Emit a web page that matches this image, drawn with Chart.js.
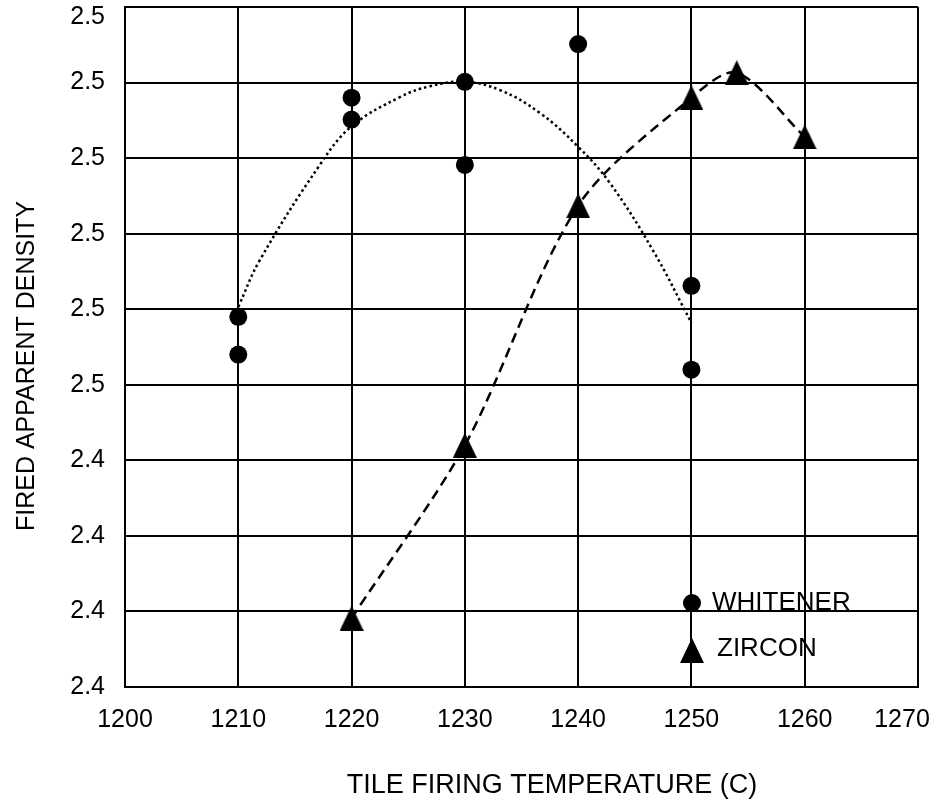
<!DOCTYPE html>
<html>
<head>
<meta charset="utf-8">
<script src="https://cdn.jsdelivr.net/npm/chart.js@4.4.1/dist/chart.umd.min.js"></script>
<style>
  html, body { margin: 0; padding: 0; background: #fff; }
  canvas { display: block; }
</style>
</head>
<body>
<canvas id="chart" width="940" height="811"></canvas>
<script>
// axis ticks
const xTicks = [1200, 1210, 1220, 1230, 1240, 1250, 1260, 1270];
const yTickValues = [2.41, 2.42, 2.43, 2.44, 2.45, 2.46, 2.47, 2.48, 2.49, 2.50];
const yTickLabels = ['2.4', '2.4', '2.4', '2.4', '2.5', '2.5', '2.5', '2.5', '2.5', '2.5'];

// WHITENER measurements
const whitenerTemps = [1210, 1210, 1220, 1220, 1230, 1230, 1240, 1250, 1250];
const whitenerDensity = [2.4590, 2.4540, 2.4880, 2.4851, 2.4901, 2.4791, 2.4951, 2.4631, 2.4520];

// WHITENER trend curve
const trendTemps = [1210, 1211.9, 1217.2, 1220, 1224.3, 1226.9, 1230, 1233.1, 1236.6, 1240, 1242.8, 1246.6, 1250];
const trendDensity = [2.4603, 2.4665, 2.4791, 2.4842, 2.4881, 2.4895, 2.4901, 2.4890, 2.4860, 2.4815, 2.4767, 2.4678, 2.4582];

// ZIRCON measurements
const zirconTemps = [1220, 1230, 1240, 1250, 1254, 1260];
const zirconDensity = [2.4191, 2.4420, 2.4737, 2.4880, 2.4913, 2.4828];

const FONT = '"Liberation Sans", Arial, sans-serif';

const toPoints = (xs, ys) => xs.map((x, i) => ({ x: x, y: ys[i] }));

// filled triangle marker, centred on its box like the spreadsheet one
function makeTriangle(w, h) {
  const c = document.createElement('canvas');
  c.width = w;
  c.height = h;
  const g = c.getContext('2d');
  g.fillStyle = '#000';
  g.beginPath();
  g.moveTo(w / 2, 0);
  g.lineTo(w, h);
  g.lineTo(0, h);
  g.closePath();
  g.fill();
  return c;
}
const triangle = makeTriangle(24, 25);

const extras = {
  id: 'extras',
  beforeDraw(chart) {
    // keep the edge labels inside the canvas
    const xi = chart.scales.x.getLabelItems();
    const lastX = xi[xi.length - 1];
    if (lastX && !lastX._moved) {
      lastX.options.translation[0] -= 16;
      lastX._moved = true;
    }
    const yi = chart.scales.y.getLabelItems();
    const lastY = yi[yi.length - 1];
    if (lastY && !lastY._moved) {
      lastY.options.translation[1] += 10;
      lastY._moved = true;
    }
  },
  afterDraw(chart) {
    const ctx = chart.ctx;
    const a = chart.chartArea;
    ctx.save();
    ctx.fillStyle = '#000';
    ctx.font = '26px ' + FONT;
    ctx.textBaseline = 'middle';

    // legend
    ctx.beginPath();
    ctx.arc(a.left + 567, a.top + 596, 9, 0, Math.PI * 2);
    ctx.fill();
    ctx.textAlign = 'left';
    ctx.fillText('WHITENER', a.left + 587, a.top + 596);
    ctx.drawImage(triangle, a.left + 555, a.top + 631);
    ctx.fillText('ZIRCON', a.left + 592, a.top + 642);

    // axis titles
    ctx.textAlign = 'center';
    ctx.font = '27px ' + FONT;
    ctx.fillText('TILE FIRING TEMPERATURE (C)', 552, 786);
    ctx.font = '25px ' + FONT;
    ctx.translate(27, 366);
    ctx.rotate(-Math.PI / 2);
    ctx.fillText('FIRED APPARENT DENSITY', 0, 0);
    ctx.restore();
  }
};

new Chart(document.getElementById('chart'), {
  type: 'scatter',
  data: {
    datasets: [
      {
        label: 'WHITENER',
        data: toPoints(whitenerTemps, whitenerDensity),
        showLine: false,
        pointStyle: 'circle',
        pointRadius: 9,
        pointHoverRadius: 9,
        backgroundColor: '#000',
        borderColor: '#000',
        borderWidth: 0,
        order: 0
      },
      {
        label: 'ZIRCON',
        data: toPoints(zirconTemps, zirconDensity),
        showLine: true,
        tension: 0.3,
        pointStyle: triangle,
        pointRadius: 12,
        backgroundColor: '#000',
        borderColor: '#000',
        borderWidth: 2.5,
        borderDash: [10, 6],
        order: 1
      },
      {
        label: 'trend',
        data: toPoints(trendTemps, trendDensity),
        showLine: true,
        tension: 0.4,
        pointRadius: 0,
        borderColor: '#000',
        borderWidth: 2.5,
        borderDash: [2.5, 3],
        order: 2
      }
    ]
  },
  options: {
    responsive: false,
    animation: false,
    devicePixelRatio: 1,
    layout: { autoPadding: false, padding: { left: 0, top: 7, right: 22, bottom: 0 } },
    plugins: {
      legend: { display: false },
      tooltip: { enabled: false }
    },
    scales: {
      x: {
        type: 'linear',
        min: 1200,
        max: 1270,
        afterBuildTicks: (s) => { s.ticks = xTicks.map(v => ({ value: v })); },
        afterFit: (s) => { s.height = 124; s.paddingLeft = 0; s.paddingRight = 0; },
        grid: { color: '#000', lineWidth: 2, drawTicks: false },
        border: { display: true, color: '#000', width: 2 },
        ticks: {
          color: '#000',
          padding: 18,
          maxRotation: 0,
          font: { family: FONT, size: 25 },
          callback: (v, i) => String(xTicks[i])
        }
      },
      y: {
        type: 'linear',
        min: 2.41,
        max: 2.50,
        afterBuildTicks: (s) => { s.ticks = yTickValues.map(v => ({ value: v })); },
        afterFit: (s) => { s.width = 125; s.paddingTop = 0; s.paddingBottom = 0; },
        grid: { color: '#000', lineWidth: 2, drawTicks: false },
        border: { display: true, color: '#000', width: 2 },
        ticks: {
          color: '#000',
          padding: 20,
          font: { family: FONT, size: 25 },
          callback: (v, i) => yTickLabels[i]
        }
      }
    }
  },
  plugins: [extras]
});
</script>
</body>
</html>
